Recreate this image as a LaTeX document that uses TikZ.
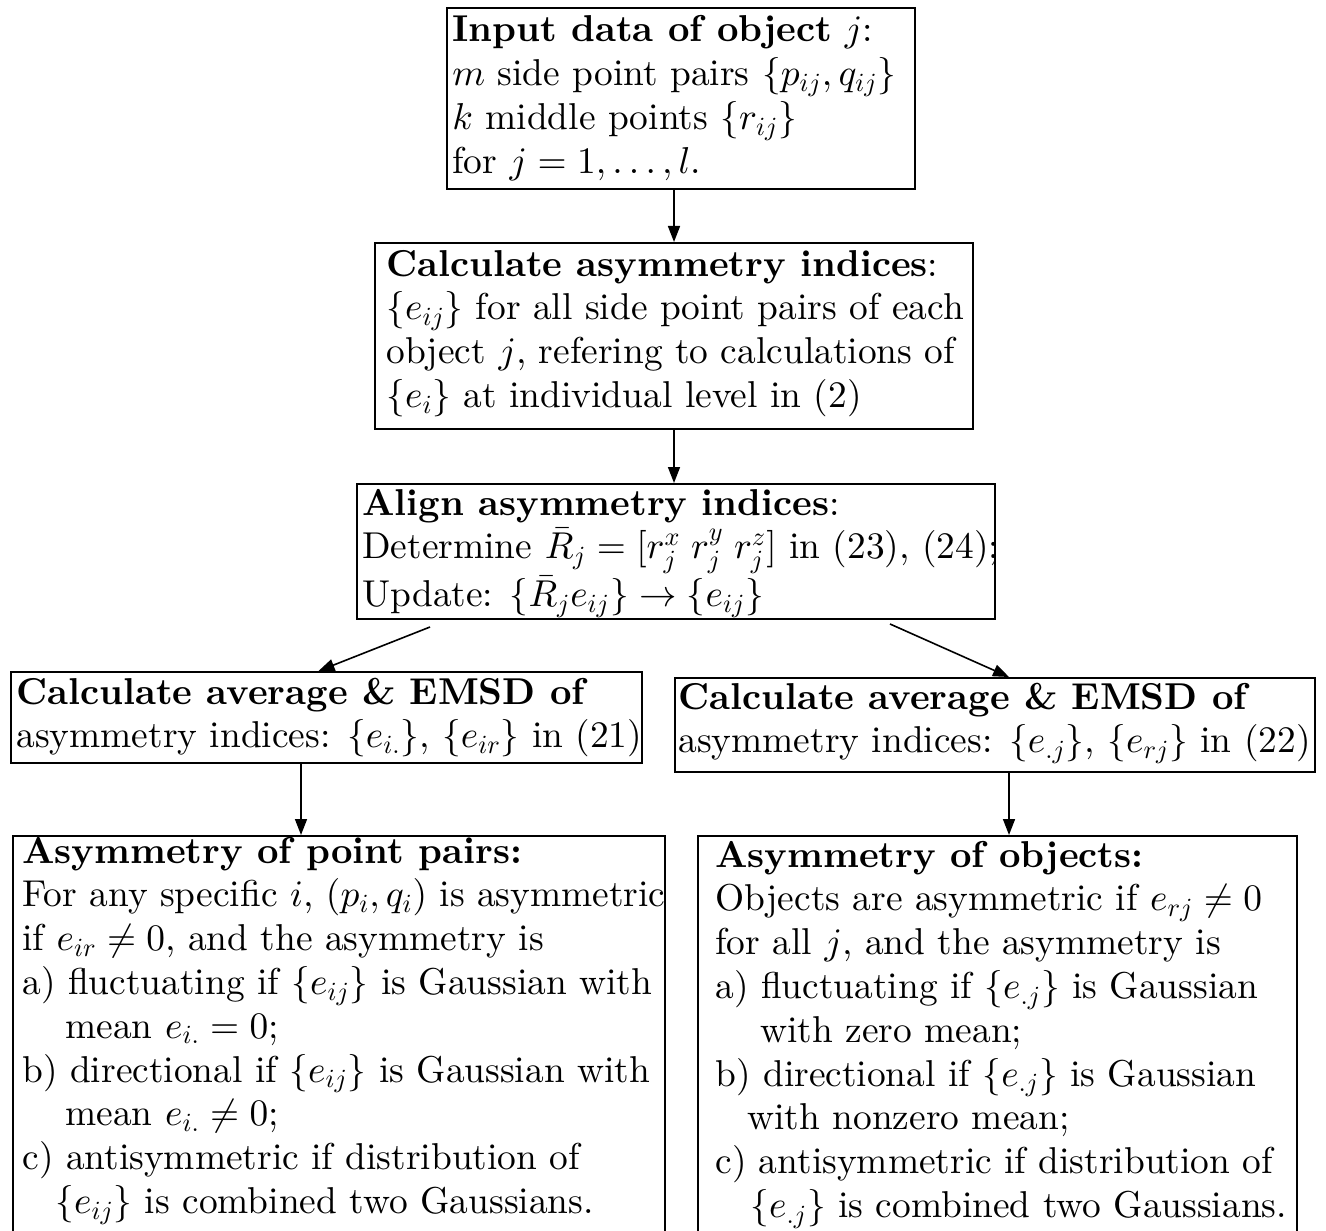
\documentclass[tikz,border=0pt]{standalone}
\usepackage{amsmath}
\usepackage{fontspec}
\setmainfont{lmroman10-regular}[Extension=.otf, BoldFont=lmroman10-bold, ItalicFont=lmroman10-italic, BoldItalicFont=lmroman10-bolditalic]
\DeclareFontFamily{OML}{cmm}{\skewchar\font127}
\DeclareFontShape{OML}{cmm}{m}{it}{<->cmmi10}{}
\DeclareFontFamily{OMS}{cmsy}{\skewchar\font48}
\DeclareFontShape{OMS}{cmsy}{m}{n}{<->cmsy10}{}
\DeclareFontFamily{OT1}{cmr}{}
\DeclareFontShape{OT1}{cmr}{m}{n}{<->cmr10}{}
\usetikzlibrary{arrows.meta}
\newcommand\Ln[1]{\hbox{#1}}
\begin{document}
\begin{tikzpicture}[x=0.5pt,y=-0.5pt,
  box/.style={draw, line width=1pt, anchor=north west, inner sep=0pt},
  txt/.style={anchor=base west, inner sep=0pt, font=\fontsize{18.7}{21.9}\selectfont},
  arr/.style={-{Triangle[length=8pt,width=6pt]}, line width=0.8pt}]
\useasboundingbox (0,0) rectangle (1326,1230);
% boxes
\node[box, minimum width=234pt, minimum height=90.5pt] (b1) at (446,7) {};
\node[box, minimum width=299pt, minimum height=93pt] (b2) at (374,242) {};
\node[box, minimum width=319pt, minimum height=67.5pt] (b3) at (356,483) {};
\node[box, minimum width=315.5pt, minimum height=45.5pt] (b4) at (10,671) {};
\node[box, minimum width=320pt, minimum height=47pt] (b5) at (674,677) {};
\node[box, minimum width=326pt, minimum height=215pt] (b6) at (12,835) {};
\node[box, minimum width=299.5pt, minimum height=215pt] (b7) at (697,835) {};
% texts
\node[txt] (t1) at (452,42) {\vtop{%
\Ln{\textbf{Input data of object} $j$:}
\Ln{$m$ side point pairs $\{p_{ij},q_{ij}\}$}
\Ln{$k$ middle points $\{r_{ij}\}$}
\Ln{for $j=1,\ldots,l$.}}};
\node[txt] (t2) at (386,276) {\vtop{%
\Ln{\textbf{Calculate asymmetry indices}:}
\Ln{$\{e_{ij}\}$ for all side point pairs of each}
\Ln{object $j$, refering to calculations of}
\Ln{$\{e_i\}$ at individual level in (2)}}};
\node[txt] (t3) at (362,515) {\vtop{%
\Ln{\textbf{Align asymmetry indices}:}
\Ln{Determine $\bar{R}_j=[r_j^x\; r_j^y\; r_j^z]$ in (23), (24);}
\Ln{Update: $\{\bar{R}_j e_{ij}\}\rightarrow\{e_{ij}\}$}}};
\node[txt] (t4) at (16,704) {\vtop{%
\Ln{\textbf{Calculate average \& EMSD of}}
\Ln{asymmetry indices: $\{e_{i.}\}$, $\{e_{ir}\}$ in (21)}}};
\node[txt] (t5) at (678,709) {\vtop{%
\Ln{\textbf{Calculate average \& EMSD of}}
\Ln{asymmetry indices: $\{e_{.j}\}$, $\{e_{rj}\}$ in (22)}}};
\node[txt] (t6) at (22,863) {\vtop{%
\Ln{\textbf{Asymmetry of point pairs:}}
\Ln{For any specific $i$, $(p_i,q_i)$ is asymmetric}
\Ln{if $e_{ir}\neq 0$, and the asymmetry is}
\Ln{a) fluctuating if $\{e_{ij}\}$ is Gaussian with}
\Ln{\hskip21.5pt mean $e_{i.}=0$;}
\Ln{b) directional if $\{e_{ij}\}$ is Gaussian with}
\Ln{\hskip21.5pt mean $e_{i.}\neq 0$;}
\Ln{c) antisymmetric if distribution of}
\Ln{\hskip16.5pt $\{e_{ij}\}$ is combined two Gaussians.}}};
\node[txt] (t7) at (715,867) {\vtop{%
\Ln{\textbf{Asymmetry of objects:}}
\Ln{Objects are asymmetric if $e_{rj}\neq 0$}
\Ln{for all $j$, and the asymmetry is}
\Ln{a) fluctuating if $\{e_{.j}\}$ is Gaussian}
\Ln{\hskip22.5pt with zero mean;}
\Ln{b) directional if $\{e_{.j}\}$ is Gaussian}
\Ln{\hskip16pt with nonzero mean;}
\Ln{c) antisymmetric if distribution of}
\Ln{\hskip17.5pt $\{e_{.j}\}$ is combined two Gaussians.}}};
% connectors
\coordinate (a34) at (430,627);
\coordinate (a35) at (890,624);
\draw[arr] (b2.north |- b1.south) -- (b2.north);
\draw[arr] (b2.south) -- (b2.south |- b3.north);
\draw[arr] (a34) -- ([xshift=-4pt]b4.north);
\draw[arr] (a35) -- ([xshift=7pt]b5.north);
\draw[arr] ([xshift=-12.75pt]b4.south) -- ([xshift=-12.75pt]b4.south |- b6.north);
\draw[arr] ([xshift=7pt]b5.south) -- ([xshift=7pt]b5.south |- b7.north);
\end{tikzpicture}
\end{document}
